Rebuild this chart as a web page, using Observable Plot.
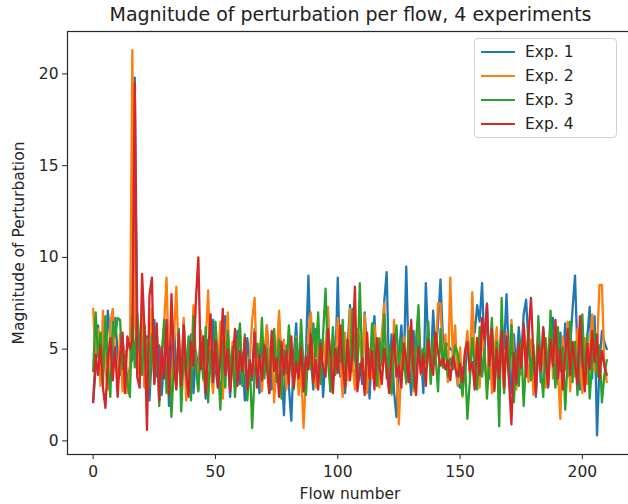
<!DOCTYPE html>
<html>
<head>
<meta charset="utf-8">
<script src="https://cdn.jsdelivr.net/npm/d3@7"></script>
<script src="https://cdn.jsdelivr.net/npm/@observablehq/plot@0.6"></script>
<style>
  html, body { margin: 0; padding: 0; background: #fff; }
  #wrap { position: relative; width: 628px; height: 504px; overflow: hidden; font-family: "DejaVu Sans", sans-serif; }
  #title { height: 29px; line-height: 29px; text-align: center; font-size: 19px; color: #222; padding-left: 73px; white-space: nowrap; }
  #legend { position: absolute; left: 474px; top: 38px; width: 143px; height: 100px; border: 1px solid #d0d0d0; border-radius: 4px; background: rgba(255,255,255,0.85); box-sizing: border-box; }
  .row { position: absolute; left: 6px; height: 20px; display: flex; align-items: center; font-size: 15.5px; color: #222; }
  .sw { width: 34px; height: 0; border-top: 2.5px solid; margin-right: 10px; }
</style>
</head>
<body>
<div id="wrap">
  <div id="title">Magnitude of perturbation per flow, 4 experiments</div>
  <div id="chart"></div>
  <div id="legend"></div>
</div>
<script>
const seriesNames = ["Exp. 1", "Exp. 2", "Exp. 3", "Exp. 4"];
const colors = ["#1f77b4", "#ff7f0e", "#2ca02c", "#d62728"];
const xTicks = [0, 50, 100, 150, 200];
const yTicks = [0, 5, 10, 15, 20];

const exp1 = [
  2.2, 3.9, 6.3, 3.4, 5.1, 4.2, 7.1, 5.5, 4.4,
  6.7, 4.8, 3.6, 5.6, 4.1, 3.2, 4.0, 4.5, 19.8, 6.8,
  4.1, 6.9, 3.0, 5.7, 2.2, 4.8, 6.6, 3.5, 5.2, 2.5,
  4.4, 6.2, 1.9, 4.7, 6.3, 3.9, 5.0, 2.8, 6.5, 4.2,
  3.3, 5.8, 2.6, 4.9, 3.7, 6.0, 4.4, 2.3, 5.5, 3.8,
  6.6, 4.0, 2.9, 5.3, 3.5, 6.8, 4.6, 2.4, 5.1, 3.9,
  6.0, 3.1, 4.8, 2.2, 5.6, 4.3, 3.3, 6.1, 4.0, 2.6,
  5.4, 3.7, 6.3, 4.5, 2.8, 5.8, 3.4, 6.6, 4.1, 1.4,
  5.2, 3.0, 1.1, 4.6, 6.4, 3.6, 5.9, 2.7, 4.8, 9.0,
  4.5, 2.8, 6.1, 3.9, 5.5, 2.4, 4.7, 6.9, 3.2, 5.8,
  4.0, 8.9, 3.5, 6.2, 2.6, 5.1, 7.4, 3.8, 5.6, 2.9,
  4.2, 3.1, 7.0, 4.9, 2.3, 5.4, 6.8, 3.6, 5.0,
  4.1, 7.6, 9.2, 3.4, 5.8, 2.7, 1.3, 4.6, 6.3, 3.9,
  9.5, 4.4, 2.5, 6.0, 3.3, 5.7, 4.8, 2.6, 8.6, 5.2,
  3.8, 7.1, 4.6, 6.4, 8.8, 5.5, 5.1, 5.3, 5.0, 4.9,
  4.2, 3.1, 2.9, 4.0, 3.6, 5.2, 4.5, 6.8, 5.9, 7.4,
  6.5, 8.6, 4.8, 7.5, 3.4, 6.1, 2.8, 5.6, 4.1, 6.6,
  5.0, 8.0, 4.3, 2.6, 5.8, 3.9, 6.2, 4.5, 6.9,
  7.7, 5.2, 3.6, 4.8, 2.4, 5.6, 3.2, 6.1, 4.4, 2.9,
  5.5, 6.7, 4.0, 3.1, 5.9, 4.3, 6.4, 3.5, 5.1, 7.2,
  9.0, 4.7, 2.8, 6.3, 4.1, 5.6, 7.3, 3.4, 6.8, 0.3,
  4.2, 6.0, 5.4, 5.0
];
const exp2 = [
  7.2, 4.4, 6.1, 3.0, 7.1, 4.0, 2.8, 6.4, 7.2,
  4.6, 3.4, 5.8, 2.7, 4.9, 2.6, 4.0, 21.3, 6.5, 5.0,
  3.6, 6.8, 2.9, 5.5, 4.2, 7.2, 3.1, 5.9, 2.4, 4.7,
  6.3, 8.9, 3.8, 2.5, 5.6, 8.4, 4.1, 3.0, 6.7, 2.2,
  5.0, 3.6, 7.4, 4.5, 2.8, 6.0, 3.3, 5.3, 8.2, 4.0,
  2.6, 5.7, 3.9, 6.5, 2.3, 4.8, 7.0, 3.5, 5.4, 2.9,
  4.6, 6.2, 3.2, 5.1, 2.5, 4.4, 6.6, 7.8, 3.7, 5.3,
  2.7, 4.9, 6.3, 3.4, 5.8, 2.1, 4.6, 7.1, 3.9, 5.5,
  2.8, 6.0, 4.3, 3.1, 5.7, 2.5, 4.0, 0.7, 3.6, 5.9,
  7.0, 4.2, 2.9, 6.4, 3.5, 5.6, 4.0, 7.3, 2.7, 5.1,
  3.8, 6.7, 4.6, 2.4, 5.9, 3.3, 7.2, 4.5, 2.8, 6.1,
  5.4, 4.1, 6.9, 2.6, 5.0, 3.4, 6.3, 4.7, 2.9,
  5.8, 7.5, 3.7, 4.9, 2.5, 6.6, 3.9, 0.9, 4.4, 5.7,
  3.1, 6.2, 4.5, 2.7, 5.3, 6.8, 3.6, 5.0, 4.2, 6.1,
  3.3, 5.5, 4.8, 7.5, 7.5, 4.0, 5.8, 3.2, 8.9, 4.6,
  6.3, 3.0, 5.1, 2.4, 4.7, 6.0, 3.5, 8.1, 4.2, 5.6,
  2.9, 6.5, 4.0, 3.3, 5.7, 2.6, 4.8, 6.2, 3.1, 5.4,
  2.7, 5.9, 3.8, 6.6, 4.5, 2.8, 5.2, 3.6, 6.3,
  4.9, 3.2, 5.5, 2.5, 4.1, 6.0, 3.7, 5.3, 2.9, 4.6,
  6.4, 3.4, 5.1, 4.0, 1.2, 5.7, 3.9, 6.5, 2.7, 4.8,
  3.5, 6.1, 4.4, 2.6, 5.6, 3.1, 4.7, 6.9, 3.8, 5.0,
  8.5, 8.5, 4.1, 3.2
];
const exp3 = [
  3.8, 7.0, 4.6, 5.9, 3.1, 6.8, 4.2, 2.4, 6.5,
  5.7, 6.7, 6.6, 3.9, 4.7, 3.2, 2.4, 6.8, 4.0, 7.0,
  5.2, 3.6, 6.3, 4.4, 2.9, 5.8, 3.3, 6.0, 1.9, 4.5,
  6.6, 2.6, 5.1, 1.3, 4.2, 3.0, 6.1, 1.6, 4.8, 3.5,
  5.7, 2.2, 6.8, 4.0, 2.7, 5.3, 3.4, 6.2, 2.1, 4.9,
  3.2, 6.5, 4.3, 1.7, 5.5, 2.9, 6.0, 3.7, 5.1, 2.4,
  4.6, 6.4, 3.0, 5.8, 2.2, 4.4, 0.7, 3.6, 5.3, 4.1,
  6.7, 3.4, 5.0, 2.6, 4.7, 6.1, 3.2, 5.5, 2.3, 4.9,
  3.7, 6.3, 4.2, 2.8, 5.6, 3.5, 6.6, 4.0, 2.5, 5.2,
  3.9, 6.4, 4.6, 7.0, 3.1, 5.8, 8.3, 4.4, 2.7, 6.2,
  3.6, 5.1, 4.3, 6.6, 2.9, 5.5, 3.8, 7.2, 4.6, 3.3,
  8.6, 4.1, 2.8, 5.3, 3.6, 6.4, 4.8, 3.0, 5.6,
  4.2, 6.9, 3.4, 5.2, 2.6, 4.7, 6.3, 3.9, 5.5, 4.4,
  3.2, 6.0, 4.9, 2.9, 5.4, 7.4, 3.7, 5.0, 4.3, 6.5,
  3.1, 5.7, 4.6, 2.7, 6.1, 4.0, 5.3, 3.5, 4.5, 3.9,
  5.2, 4.8, 3.6, 2.5, 4.4, 1.2, 3.3, 5.6, 4.0, 2.8,
  6.2, 3.5, 5.0, 2.3, 4.6, 6.7, 3.2, 5.4, 0.8, 7.8,
  2.6, 5.7, 3.4, 6.3, 2.1, 4.8, 3.0, 5.5, 1.9,
  4.4, 6.1, 3.3, 5.2, 2.7, 6.8, 4.0, 2.4, 5.6, 3.6,
  7.1, 4.5, 2.9, 6.2, 3.8, 5.1, 1.7, 4.6, 6.5, 3.2,
  5.4, 2.5, 4.9, 6.9, 3.0, 5.8, 2.3, 4.3, 6.0, 3.5,
  5.2, 2.1, 3.6, 4.4
];
const exp4 = [
  2.1, 4.7, 3.6, 5.2, 2.9, 1.8, 4.4, 5.6, 3.3,
  5.1, 2.4, 4.6, 5.9, 2.6, 5.7, 5.0, 5.5, 19.5, 3.5,
  2.9, 9.1, 6.0, 0.6, 7.9, 8.9, 3.1, 6.4, 2.2, 5.1,
  3.4, 6.6, 2.5, 8.0, 4.2, 2.8, 5.9, 3.0, 6.3, 3.7,
  2.4, 5.4, 4.1, 7.7, 10.0, 3.9, 5.7, 2.6, 4.8, 6.9,
  3.2, 5.5, 2.9, 4.5, 7.2, 3.6, 5.0, 2.7, 4.3, 6.1,
  3.0, 4.9, 3.8, 5.6, 2.8, 4.4, 3.5, 5.9, 2.9, 4.7,
  3.3, 5.2, 4.0, 2.6, 6.0, 3.8, 4.5, 2.4, 5.4, 3.6,
  4.9, 3.1, 5.7, 2.9, 4.3, 3.4, 5.1, 2.7, 4.6, 3.9,
  5.8, 3.2, 4.4, 2.8, 5.3, 4.0, 3.5, 6.1, 4.7, 2.6,
  5.0, 3.7, 6.3, 4.1, 2.9, 5.5, 3.3, 4.8, 8.4, 2.7,
  3.8, 4.5, 2.5, 5.9, 3.4, 4.9, 2.8, 5.6, 4.2,
  3.1, 5.0, 3.9, 2.6, 4.6, 5.8, 3.5, 4.1, 2.9, 5.3,
  4.4, 3.2, 6.6, 4.0, 2.5, 5.1, 3.7, 4.7, 3.0, 5.5,
  4.2, 3.6, 5.9, 4.8, 4.1, 4.5, 3.9, 4.4, 3.3, 4.6,
  4.0, 3.5, 4.2, 3.2, 4.9, 5.4, 3.8, 4.3, 2.8, 5.6,
  3.6, 6.7, 5.5, 7.4, 4.1, 6.1, 2.7, 5.0, 3.4, 6.0,
  2.9, 5.7, 3.3, 0.9, 4.8, 3.1, 5.3, 4.0, 6.4,
  3.5, 5.9, 7.8, 4.6, 2.6, 5.2, 3.8, 6.2, 4.4, 3.0,
  5.5, 4.1, 6.6, 3.4, 5.0, 2.8, 4.7, 6.1, 3.6, 5.4,
  4.2, 3.1, 6.8, 4.5, 2.7, 5.3, 3.9, 6.0, 4.3, 5.8,
  3.4, 4.9, 4.1, 3.6
];

const allSeries = [exp1, exp2, exp3, exp4];
const rows = allSeries.flatMap((vals, s) => vals.map((v, i) => ({flow: i, value: v, exp: seriesNames[s]})));

const chart = Plot.plot({
  width: 628,
  height: 475,
  marginLeft: 67,
  marginRight: -4,
  marginTop: 2,
  marginBottom: 50,
  style: {fontFamily: "DejaVu Sans, sans-serif", fontSize: "15.5px", color: "#262626", background: "transparent", overflow: "hidden"},
  x: {domain: [-10.5, 220.5]},
  y: {domain: [-0.74, 22.31]},
  color: {domain: seriesNames, range: colors},
  marks: [
    Plot.frame({stroke: "#262626", strokeWidth: 1.2}),
    Plot.axisX({ticks: xTicks, tickSize: 5, tickPadding: 6, tickFormat: d => String(d), label: "Flow number", labelAnchor: "center", labelOffset: 44, labelArrow: "none"}),
    Plot.axisY({ticks: yTicks, tickSize: 5, tickPadding: 4, tickFormat: d => String(d), label: "Magnitude of Perturbation", labelAnchor: "center", labelOffset: 55, labelArrow: "none"}),
    Plot.lineY(rows, {x: "flow", y: "value", z: "exp", stroke: "exp", strokeWidth: 2.3, strokeLinejoin: "round"})
  ]
});
document.getElementById("chart").appendChild(chart);

const legend = document.getElementById("legend");
seriesNames.forEach((name, i) => {
  const r = document.createElement("div");
  r.className = "row";
  r.style.top = (3 + i * 24) + "px";
  const sw = document.createElement("div");
  sw.className = "sw";
  sw.style.borderTopColor = colors[i];
  r.appendChild(sw);
  const t = document.createElement("span");
  t.textContent = name;
  r.appendChild(t);
  legend.appendChild(r);
});
</script>
</body>
</html>
